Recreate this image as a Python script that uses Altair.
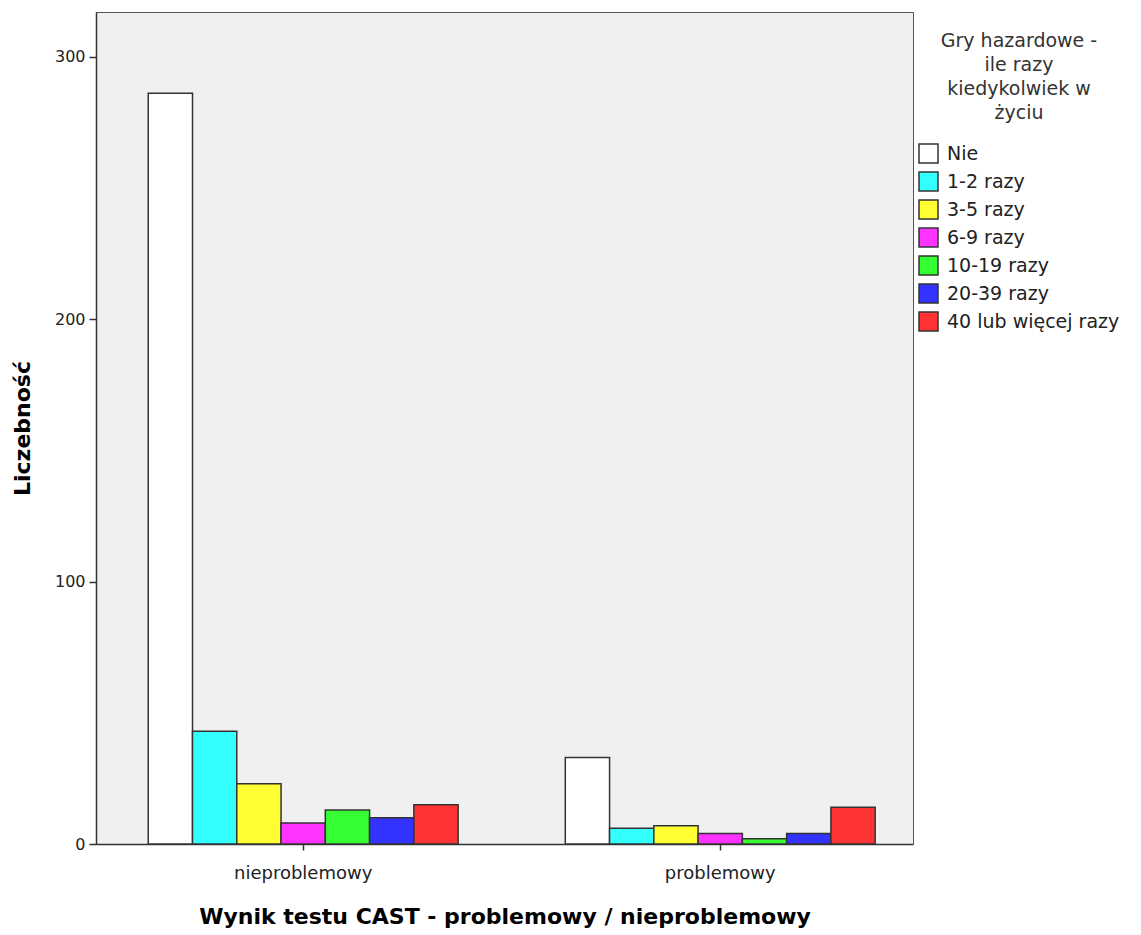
import altair as alt
import pandas as pd

groups = ["nieproblemowy", "problemowy"]
series = ["Nie", "1-2 razy", "3-5 razy", "6-9 razy", "10-19 razy", "20-39 razy", "40 lub więcej razy"]
colors = ["#ffffff", "#33ffff", "#ffff33", "#ff33ff", "#33ff33", "#3333ff", "#ff3333"]
vals_nieproblemowy = [286, 43, 23, 8, 13, 10, 15]
vals_problemowy = [33, 6, 7, 4, 2, 4, 14]
y_ticks = [0, 100, 200, 300]

rows = []
for s, v in zip(series, vals_nieproblemowy):
    rows.append({"grupa": groups[0], "seria": s, "n": v})
for s, v in zip(series, vals_problemowy):
    rows.append({"grupa": groups[1], "seria": s, "n": v})
df = pd.DataFrame(rows)

FONT = "DejaVu Sans"

chart = alt.Chart(df).mark_bar(stroke="#333333", strokeWidth=1.5).encode(
    x=alt.X("grupa:N", sort=groups,
            scale=alt.Scale(paddingInner=0.257, paddingOuter=0.108, align=0.58),
            axis=alt.Axis(title="Wynik testu CAST - problemowy / nieproblemowy",
                          labelAngle=0, tickSize=6, labelPadding=14, titlePadding=24,
                          labelFontSize=18, titleFontSize=22, titleFontWeight="bold",
                          labelColor="#222222", titleColor="#000000",
                          domainColor="#333333", tickColor="#333333", domainWidth=1.5, tickWidth=1.5)),
    xOffset=alt.XOffset("seria:N", sort=series, scale=alt.Scale(paddingInner=0, paddingOuter=0)),
    y=alt.Y("n:Q", scale=alt.Scale(domain=[0, 317], nice=False),
            axis=alt.Axis(title="Liczebność", values=y_ticks, grid=False, tickSize=7,
                          labelPadding=4, titlePadding=20,
                          labelFontSize=16, titleFontSize=22, titleFontWeight="bold",
                          labelColor="#222222", titleColor="#000000",
                          domainColor="#333333", tickColor="#333333", domainWidth=1.5, tickWidth=1.5)),
    fill=alt.Fill("seria:N", sort=series,
                  scale=alt.Scale(domain=series, range=colors),
                  legend=alt.Legend(title=["Gry hazardowe -", "ile razy", "kiedykolwiek w", "życiu"],
                                    orient="none", legendX=822, legendY=20,
                                    titleAnchor="middle", titleAlign="center",
                                    titleFontSize=19, titleFontWeight="normal", titleColor="#333333",
                                    titleLineHeight=24, titlePadding=20, titleLimit=400,
                                    labelFontSize=19, labelColor="#222222", labelOffset=8,
                                    labelLimit=400,
                                    symbolType="square", symbolSize=361,
                                    symbolStrokeColor="#333333", symbolStrokeWidth=1.5,
                                    rowPadding=3)),
).properties(
    width=817, height=832,
    autosize=alt.AutoSizeParams(type="none"),
    padding={"left": 88, "top": 4, "right": 220, "bottom": 90},
    background="#ffffff",
).configure(font=FONT).configure_view(
    fill="#f0f0f0", stroke="#555555", strokeWidth=1
)

chart.save("out.html", embed_options={"renderer": "svg", "actions": False})
